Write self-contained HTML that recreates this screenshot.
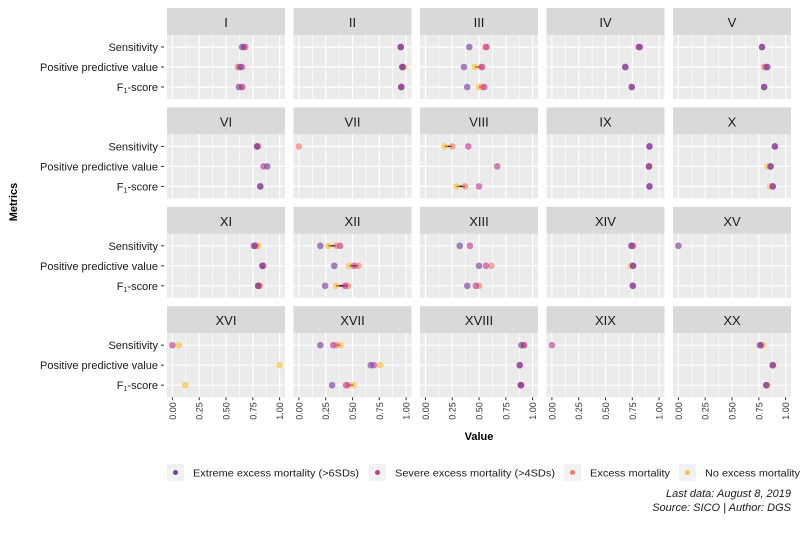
<!DOCTYPE html>
<html><head><meta charset="utf-8"><style>
body{margin:0;background:#fff;}
svg{display:block;font-family:"Liberation Sans",Arial,sans-serif;}
</style></head><body>
<svg id="chart" width="800" height="533" xmlns="http://www.w3.org/2000/svg"></svg>
<script>
const panels=["I","II","III","IV","V","VI","VII","VIII","IX","X","XI","XII","XIII","XIV","XV","XVI","XVII","XVIII","XIX","XX"];
const metrics=["Sensitivity","Positive predictive value","F1-score"];
const xTicks=[0,0.25,0.5,0.75,1];
const xTickLabels=["0.00","0.25","0.50","0.75","1.00"];
const seriesNames=["Extreme excess mortality (>6SDs)","Severe excess mortality (>4SDs)","Excess mortality","No excess mortality"];
// values per panel: [Sensitivity, PPV, F1]
const extremeVals=[[0.65,0.63,0.62],[0.95,0.965,0.955],[0.41,0.36,0.39],[0.82,0.685,0.745],[0.78,0.83,0.80],[0.79,0.885,0.82],[null,null,null],[null,null,null],[0.91,0.905,0.91],[0.90,0.86,0.88],[0.76,0.84,0.80],[0.20,0.33,0.245],[0.32,0.50,0.39],[0.74,0.757,0.755],[0.0,null,null],[null,null,null],[0.20,0.67,0.31],[0.895,0.88,0.89],[null,null,null],[0.76,0.88,0.82]];
const severeVals=[[0.67,0.65,0.65],[0.95,0.965,0.955],[0.57,0.53,0.55],[0.81,0.685,0.745],[0.78,0.82,0.80],[0.79,0.85,0.82],[null,null,null],[0.40,0.67,0.50],[0.91,0.905,0.91],[0.90,0.86,0.88],[0.77,0.84,0.80],[0.385,0.515,0.43],[0.415,0.565,0.47],[0.75,0.757,0.755],[null,null,null],[0.0,null,null],[0.32,0.70,0.44],[0.92,0.88,0.89],[0.0,null,null],[0.77,0.88,0.82]];
const excessVals=[[0.68,0.61,0.65],[0.95,0.97,0.955],[0.56,0.52,0.53],[0.81,null,null],[null,0.80,null],[0.80,null,null],[0.0,null,null],[0.25,null,0.37],[null,null,null],[null,null,null],[0.78,0.85,0.81],[0.35,0.555,0.457],[null,0.615,0.50],[0.76,null,null],[null,null,null],[null,null,null],[0.35,null,0.46],[0.92,null,0.895],[null,null,null],[null,null,null]];
const noExcessVals=[[null,null,null],[null,0.98,null],[null,0.46,0.50],[null,null,null],[null,null,null],[null,null,null],[null,null,null],[0.18,null,0.29],[null,0.91,null],[null,0.83,0.855],[0.80,null,0.82],[0.275,0.47,0.345],[null,null,null],[null,0.735,null],[null,null,null],[0.06,1.0,0.12],[0.39,0.76,0.51],[null,null,null],[null,null,null],[0.79,0.885,0.83]];
const colors=["#7b3f9e","#c43c97","#f97b62","#fcc23a"];

const NS="http://www.w3.org/2000/svg";
const svg=document.getElementById('chart');
function mk(tag,attrs,parent){const e=document.createElementNS(NS,tag);for(const k in attrs)e.setAttribute(k,attrs[k]);(parent||svg).appendChild(e);return e;}
const colX=[167,293.5,420,546.5,673], PW=118, PH=64, SH=27;
function rowTop(r){return 8+r*99.4;}
function xScale(c,v){return colX[c]+5.4+v*107.2;}
function yScale(r,m){return rowTop(r)+SH+12+m*20;}

panels.forEach((name,i)=>{
  const c=i%5,r=Math.floor(i/5);
  const g=mk('g',{});
  
  
  const st=mk('rect',{x:colX[c],y:rowTop(r),width:PW,height:SH,fill:'#d9d9d9'},g);
  
  
  const tt=mk('text',{x:colX[c]+PW/2,y:rowTop(r)+19,'text-anchor':'middle','font-size':'13',fill:'#1a1a1a'},g);
  tt.textContent=name;
  
  
  const top=rowTop(r)+SH;
  mk('rect',{x:colX[c],y:top,width:PW,height:PH,fill:'#ebebeb'},g);
  [0.125,0.375,0.625,0.875].forEach(v=>mk('line',{x1:xScale(c,v),x2:xScale(c,v),y1:top,y2:top+PH,stroke:'#fff','stroke-width':0.6},g));
  xTicks.forEach(v=>mk('line',{x1:xScale(c,v),x2:xScale(c,v),y1:top,y2:top+PH,stroke:'#fff','stroke-width':1.2},g));
  metrics.forEach((m,k)=>mk('line',{x1:colX[c],x2:colX[c]+PW,y1:yScale(r,k),y2:yScale(r,k),stroke:'#fff','stroke-width':1.2},g));
  for(let k=0;k<3;k++){
    const a=noExcessVals[i][k],b=excessVals[i][k];
    if(a!=null&&b!=null){const l=mk('line',{x1:xScale(c,a),x2:xScale(c,b),y1:yScale(r,k),y2:yScale(r,k),stroke:'#000','stroke-width':1.4},g);
      }
  }
  [noExcessVals,excessVals,severeVals,extremeVals].forEach((arr,si)=>{
    const col=colors[3-si];
    for(let k=0;k<3;k++){const v=arr[i][k];if(v==null)continue;
      const p=mk('circle',{cx:xScale(c,v),cy:yScale(r,k),r:3.3,fill:col,'fill-opacity':0.65},g);
      
      }
  });
  if(c===0){metrics.forEach((m,k)=>{
    const y=yScale(r,k);
    mk('line',{x1:161,x2:164,y1:y,y2:y,stroke:'#333','stroke-width':1},g);
    const t=mk('text',{x:158,y:y+4,'text-anchor':'end','font-size':'11',fill:'#1a1a1a'},g);
    if(k===2){t.innerHTML='F<tspan font-size="7" dy="2">1</tspan><tspan dy="-2">-score</tspan>';}else t.textContent=m;
    
    
  });}
  if(r===3){xTicks.forEach((v,k)=>{
    const x=xScale(c,v),y=top+PH;
    mk('line',{x1:x,x2:x,y1:y,y2:y+3,stroke:'#333','stroke-width':1},g);
    const t=mk('text',{transform:`translate(${x+3.5},${y+5}) rotate(-90)`,'text-anchor':'end','font-size':'9',fill:'#333'},g);
    t.textContent=xTickLabels[k];
    
    
  });}
});
const yt=mk('text',{transform:'translate(17,202) rotate(-90)','text-anchor':'middle','font-size':'11','font-weight':'bold',fill:'#000'});
yt.textContent='Metrics';
const xt=mk('text',{x:479,y:440,'text-anchor':'middle','font-size':'11','font-weight':'bold',fill:'#000'});
xt.textContent='Value';
const legX=[167,369,564,679];
const legW=[166,160,80,95];
seriesNames.forEach((s,i)=>{
  const g=mk('g',{});
  
  
  mk('rect',{x:legX[i],y:464,width:17,height:17,fill:'#f2f2f2'},g);
  mk('circle',{cx:legX[i]+8.5,cy:472.5,r:2.5,fill:colors[i]},g);
  const t=mk('text',{x:legX[i]+26,y:476.5,'font-size':'10.5',fill:'#1a1a1a',textLength:legW[i],lengthAdjust:'spacingAndGlyphs'},g);t.textContent=s;
});
const c1=mk('text',{x:791,y:497,'text-anchor':'end','font-size':'11','font-style':'italic',fill:'#1a1a1a'});
c1.textContent='Last data: August 8, 2019';
const c2=mk('text',{x:791,y:511,'text-anchor':'end','font-size':'11','font-style':'italic',fill:'#1a1a1a'});
c2.textContent='Source: SICO | Author: DGS';
</script>
</body></html>
